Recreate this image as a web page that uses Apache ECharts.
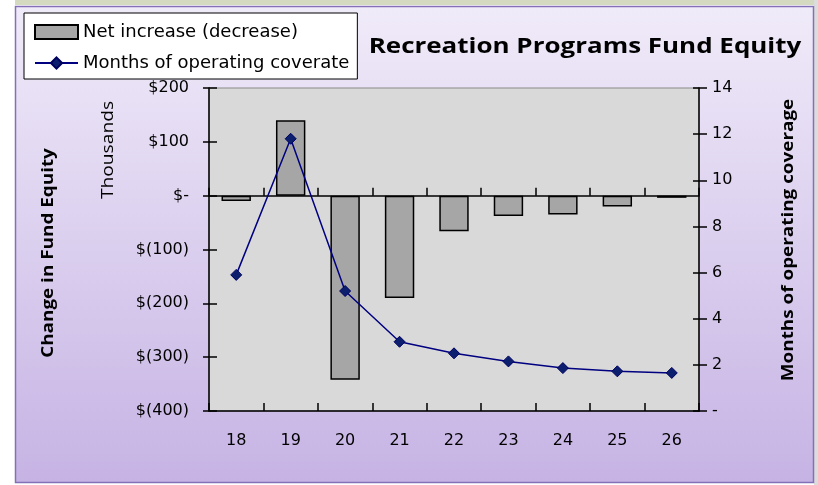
<!DOCTYPE html>
<html><head><meta charset="utf-8">
<script src="https://cdn.jsdelivr.net/npm/echarts@6/dist/echarts.min.js"></script>
<style>html,body{margin:0;padding:0;background:#fff}#c{width:818px;height:485px}</style>
</head><body><div id="c"></div>
<script>
const categories = ['18','19','20','21','22','23','24','25','26'];
const netIncrease = [-10, 140, -342, -190, -66, -38, -35, -20, -4];
const monthsCoverage = [5.9, 11.8, 5.2, 3.0, 2.5, 2.15, 1.86, 1.72, 1.65];
const leftTicks = [-400, -300, -200, -100, 0, 100, 200];
const rightTicks = [0, 2, 4, 6, 8, 10, 12, 14];

const FONT = 'Open Sans';
const LFONT = 'DejaVu Sans';
const SX = 1.18;
const chart = echarts.init(document.getElementById('c'));
function money(v){ if (v===0) return '$-'; return v<0 ? '$(' + Math.abs(v) + ')' : '$' + v; }
function gtext(x, y, rot, sx, text, size, weight){
  return { type: 'text', x: x, y: y, rotation: rot, scaleX: sx,
    style: { text: text, fontFamily: FONT, fontSize: size, fontWeight: weight, fill: '#000', align: 'center', verticalAlign: 'middle' } };
}
const L = { min: leftTicks[0], max: leftTicks[leftTicks.length-1], interval: 100 };
const R = { min: rightTicks[0], max: rightTicks[rightTicks.length-1], interval: 2 };
chart.setOption({
  animation: false,
  graphic: [
    { type: 'rect', z: -11, shape: { x: 15, y: 0, width: 803, height: 5 }, style: { fill: '#d3dac0' } },
    { type: 'rect', z: -11, shape: { x: 814, y: 0, width: 4, height: 485 }, style: { fill: '#dcdcdc' } },
    { type: 'rect', z: -10, shape: { x: 15.5, y: 6.5, width: 798, height: 476 },
      style: { fill: new echarts.graphic.LinearGradient(0,0,0,1,[{offset:0,color:'#f0ebf9'},{offset:1,color:'#c6b3e4'}]),
               stroke: '#8370b8', lineWidth: 1.5 } },
    gtext(108, 150, Math.PI/2, 1.13, 'Thousands', 17, 'normal'),
    gtext(48, 253, Math.PI/2, SX, 'Change in Fund Equity', 16, 'bold'),
    gtext(788, 240, Math.PI/2, SX, 'Months of operating coverage', 16, 'bold'),
    gtext(585, 47, 0, SX, 'Recreation Programs Fund Equity', 22, 'bold')
  ],
  legend: {
    left: 24, top: 13, orient: 'vertical', backgroundColor: '#fff', borderColor: '#000', borderWidth: 1,
    padding: [10, 8, 7, 10], itemGap: 13, itemWidth: 43, itemHeight: 14,
    textStyle: { fontSize: 18, color: '#000', fontFamily: LFONT },
    data: [
      { name: 'Net increase (decrease)', icon: 'rect' },
      { name: 'Months of operating coverate' }
    ]
  },
  grid: { left: 209, right: 119, top: 88, bottom: 74, show: true, backgroundColor: '#d9d9d9', borderColor: '#8a8a8a', borderWidth: 1 },
  xAxis: [
    { type: 'category', data: categories, axisLine: { onZero: true, lineStyle: { color: '#000', width: 1.5 } },
      axisTick: { show: true, inside: true, length: 8, lineStyle: { color: '#000', width: 1.5 } }, axisLabel: { show: false } },
    { type: 'category', data: categories, axisLine: { onZero: true, lineStyle: { color: '#000', width: 1.5 } },
      axisTick: { show: true, inside: false, length: 8, lineStyle: { color: '#000', width: 1.5 } }, axisLabel: { show: false } },
    { type: 'category', data: categories, position: 'bottom', axisLine: { show: false, onZero: false }, axisTick: { show: false },
      axisLabel: { show: true, margin: 22, fontSize: 16, color: '#000', fontFamily: LFONT } }
  ],
  yAxis: [
    { type: 'value', position: 'left', ...L, splitLine: { show: false },
      axisLine: { show: true, lineStyle: { color: '#000', width: 1.5 } },
      axisTick: { show: true, length: 6, lineStyle: { color: '#000', width: 1.5 } },
      axisLabel: { formatter: money, fontSize: 16, color: '#000', margin: 20, fontFamily: LFONT } },
    { type: 'value', position: 'right', ...R, splitLine: { show: false },
      axisLine: { show: true, lineStyle: { color: '#000', width: 1.5 } },
      axisTick: { show: true, length: 8, lineStyle: { color: '#000', width: 1.5 } },
      axisLabel: { formatter: v => v===0 ? '-' : String(v), fontSize: 16, color: '#000', margin: 13, fontFamily: LFONT } },
    { type: 'value', position: 'left', ...L, splitLine: { show: false }, axisLine: { show: false },
      axisTick: { show: true, inside: true, length: 8, lineStyle: { color: '#000', width: 1.5 } }, axisLabel: { show: false } },
    { type: 'value', position: 'right', ...R, splitLine: { show: false }, axisLine: { show: false },
      axisTick: { show: true, inside: true, length: 6, lineStyle: { color: '#000', width: 1.5 } }, axisLabel: { show: false } }
  ],
  series: [
    { name: 'Net increase (decrease)', type: 'bar', xAxisIndex: 0, yAxisIndex: 0, data: netIncrease, barWidth: '54%',
      itemStyle: { color: '#a6a6a6', borderColor: '#000', borderWidth: 1.5 } },
    { name: 'Months of operating coverate', type: 'line', xAxisIndex: 0, yAxisIndex: 1, data: monthsCoverage,
      symbol: 'diamond', symbolSize: 11, lineStyle: { color: '#000080', width: 1.5 },
      itemStyle: { color: '#0b1f6e', borderColor: '#000060', borderWidth: 1 } }
  ]
});
</script></body></html>
